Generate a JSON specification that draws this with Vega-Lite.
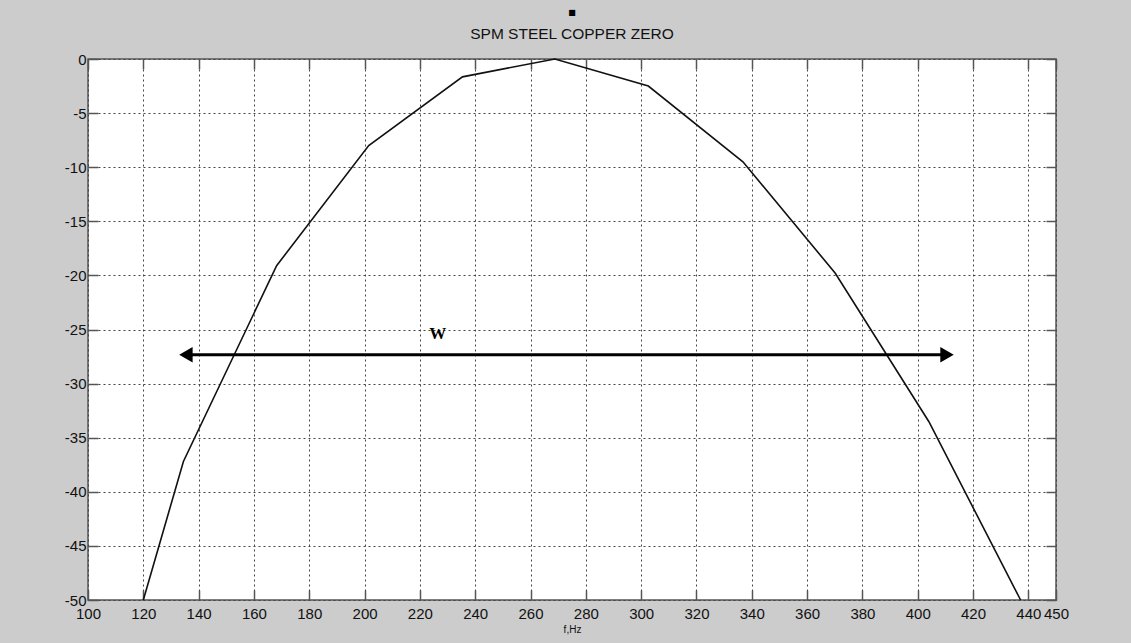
{
  "$schema": "https://vega.github.io/schema/vega-lite/v6.json",
  "autosize": {"type": "none"},
  "padding": {"left": 88, "top": 59, "right": 75, "bottom": 43},
  "width": 968,
  "height": 541,
  "background": "#cccccc",
  "title": {
    "text": "■",
    "font": "DejaVu Sans",
    "fontSize": 8,
    "fontWeight": "normal",
    "color": "#000000",
    "subtitle": "SPM STEEL COPPER ZERO",
    "subtitleFont": "Liberation Sans",
    "subtitleFontSize": 15.5,
    "subtitleColor": "#111111",
    "subtitlePadding": 10,
    "anchor": "middle",
    "offset": 10
  },
  "config": {
    "view": {"fill": "white", "stroke": "#555555", "strokeWidth": 1.5},
    "axis": {
      "labelFont": "Liberation Sans",
      "labelFontSize": 15,
      "labelColor": "#111111",
      "titleFont": "Liberation Sans",
      "domain": false,
      "tickColor": "#555555",
      "tickWidth": 1.5,
      "tickSize": -10,
      "gridColor": "#444444",
      "gridDash": [2, 3],
      "gridWidth": 1,
      "gridOpacity": 1,
      "labelOverlap": false,
      "labelBound": false,
      "labelFlush": false
    }
  },
  "datasets": {
    "curve": [
      {"f": 120, "db": -50},
      {"f": 134.5, "db": -37.2},
      {"f": 168.2, "db": -19.1},
      {"f": 201.5, "db": -8.0},
      {"f": 235.4, "db": -1.65},
      {"f": 268.8, "db": 0},
      {"f": 302.6, "db": -2.5},
      {"f": 336.8, "db": -9.5},
      {"f": 370.2, "db": -19.8},
      {"f": 404, "db": -33.5},
      {"f": 437.2, "db": -50}
    ],
    "arrow": [
      {"f1": 135.4, "f2": 410.6, "db": -27.33}
    ],
    "heads": [
      {"f": 135.4, "db": -27.33, "dir": "left"},
      {"f": 410.6, "db": -27.33, "dir": "right"}
    ],
    "label": [
      {"f": 226.5, "db": -25.4, "text": "W"}
    ]
  },
  "layer": [
    {
      "data": {"name": "curve"},
      "mark": {"type": "line", "color": "#111111", "strokeWidth": 1.6, "clip": false},
      "encoding": {
        "x": {
          "field": "f", "type": "quantitative",
          "scale": {"domain": [100, 450], "nice": false, "zero": false},
          "axis": {
            "orient": "bottom",
            "values": [100, 120, 140, 160, 180, 200, 220, 240, 260, 280, 300, 320, 340, 360, 380, 400, 420, 440, 450],
            "grid": true,
            "labelPadding": 16,
            "title": "f,Hz",
            "titleFontSize": 10,
            "titleFontWeight": "normal",
            "titleColor": "#111111",
            "titlePadding": 3
          }
        },
        "y": {
          "field": "db", "type": "quantitative",
          "scale": {"domain": [-50, 0], "nice": false, "zero": false},
          "axis": {
            "orient": "left",
            "values": [0, -5, -10, -15, -20, -25, -30, -35, -40, -45, -50],
            "labelExpr": "datum.value < 0 ? '-' + abs(datum.value) : '' + datum.value",
            "grid": true,
            "labelPadding": 12,
            "title": null
          }
        }
      }
    },
    {
      "data": {"name": "curve"},
      "mark": {"type": "line", "opacity": 0},
      "encoding": {
        "x": {
          "field": "f", "type": "quantitative",
          "axis": {
            "orient": "top",
            "values": [100, 120, 140, 160, 180, 200, 220, 240, 260, 280, 300, 320, 340, 360, 380, 400, 420, 440, 450],
            "labels": false, "grid": false, "title": null
          }
        },
        "y": {
          "field": "db", "type": "quantitative",
          "axis": {
            "orient": "right",
            "values": [0, -5, -10, -15, -20, -25, -30, -35, -40, -45, -50],
            "labels": false, "grid": false, "title": null
          }
        }
      }
    },
    {
      "data": {"name": "arrow"},
      "mark": {"type": "rule", "color": "#000000", "strokeWidth": 3},
      "encoding": {
        "x": {"field": "f1", "type": "quantitative", "axis": null},
        "x2": {"field": "f2"},
        "y": {"field": "db", "type": "quantitative", "axis": null}
      }
    },
    {
      "data": {"name": "heads"},
      "mark": {"type": "point", "filled": true, "color": "#000000", "size": 240, "opacity": 1},
      "encoding": {
        "x": {"field": "f", "type": "quantitative", "axis": null},
        "y": {"field": "db", "type": "quantitative", "axis": null},
        "shape": {
          "field": "dir", "type": "nominal",
          "scale": {"domain": ["left", "right"], "range": ["triangle-left", "triangle-right"]},
          "legend": null
        }
      }
    },
    {
      "data": {"name": "label"},
      "mark": {"type": "text", "font": "Liberation Serif", "fontSize": 17, "fontWeight": "bold", "color": "#000000", "baseline": "middle", "align": "center"},
      "encoding": {
        "x": {"field": "f", "type": "quantitative", "axis": null},
        "y": {"field": "db", "type": "quantitative", "axis": null},
        "text": {"field": "text"}
      }
    }
  ],
  "resolve": {"axis": {"x": "independent", "y": "independent"}}
}
